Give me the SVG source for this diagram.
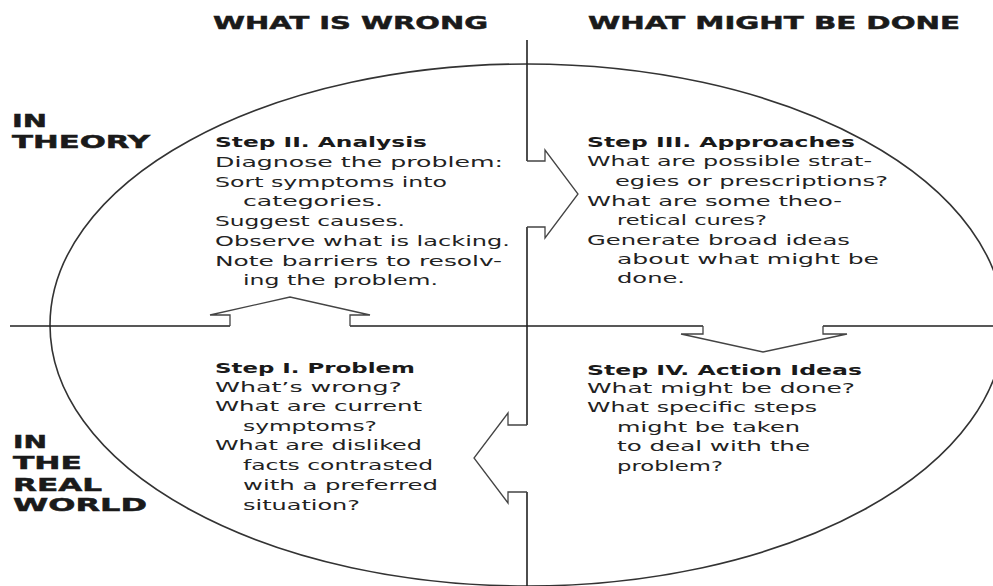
<svg xmlns="http://www.w3.org/2000/svg" width="993" height="586" viewBox="0 0 993 586">
<style>
.hdr{font-family:"DejaVu Sans","Liberation Sans",sans-serif;font-weight:bold;font-size:18.5px;fill:#1a1a1a;stroke:#1a1a1a;stroke-width:0.5}
.side{font-family:"DejaVu Sans","Liberation Sans",sans-serif;font-weight:bold;font-size:18.5px;fill:#1a1a1a;stroke:#1a1a1a;stroke-width:0.5}
.t{font-family:"DejaVu Sans","Liberation Sans",sans-serif;font-size:14px;fill:#222}
.b{font-family:"DejaVu Sans","Liberation Sans",sans-serif;font-size:14px;font-weight:bold;fill:#1a1a1a}
.axis{fill:none;stroke:#222;stroke-width:1.6}
.ring{fill:none;stroke:#333;stroke-width:1.6}
.arrow{fill:none;stroke:#444;stroke-width:1.3;stroke-linejoin:miter}
</style>
<rect width="993" height="586" fill="#fff"/>
<g id="frame">
<ellipse class="ring" cx="527" cy="325" rx="477" ry="261"/>
<path class="axis" d="M527,40 V161 M527,227 V425 M527,492 V586"/>
<path class="axis" d="M10,326 H230 M350,326 H703 M823,326 H993"/>
</g>
<g id="connectors">
<path id="arrow-I-II" class="arrow" d="M230,326 V315 H210 L290,297 L370,315 H350 V326"/>
<path id="arrow-II-III" class="arrow" d="M527,161 H545 V150 L578,194 L545,238 V227 H527"/>
<path id="arrow-III-IV" class="arrow" d="M703,326 V334 H681 L763,352 L847,334 H823 V326"/>
<path id="arrow-IV-I" class="arrow" d="M527,425 H508 V413 L474,458 L508,503 V492 H527"/>
</g>
<g id="col-wrong"><text class="hdr" x="213" y="29" textLength="275" lengthAdjust="spacingAndGlyphs">WHAT IS WRONG</text></g>
<g id="col-done"><text class="hdr" x="588" y="29" textLength="372" lengthAdjust="spacingAndGlyphs">WHAT MIGHT BE DONE</text></g>
<g id="row-theory">
<text class="side" x="12" y="127" textLength="35" lengthAdjust="spacingAndGlyphs">IN</text>
<text class="side" x="12" y="148" textLength="138" lengthAdjust="spacingAndGlyphs">THEORY</text>
</g>
<g id="row-real">
<text class="side" x="13" y="448" textLength="34" lengthAdjust="spacingAndGlyphs">IN</text>
<text class="side" x="13" y="469" textLength="69" lengthAdjust="spacingAndGlyphs">THE</text>
<text class="side" x="13" y="491" textLength="89" lengthAdjust="spacingAndGlyphs">REAL</text>
<text class="side" x="13" y="511" textLength="134" lengthAdjust="spacingAndGlyphs">WORLD</text>
</g>
<g id="step2">
<text class="b" x="215" y="147" textLength="212" lengthAdjust="spacingAndGlyphs">Step II. Analysis</text>
<text class="t" x="215" y="167" textLength="288" lengthAdjust="spacingAndGlyphs">Diagnose the problem:</text>
<text class="t" x="215" y="187" textLength="232" lengthAdjust="spacingAndGlyphs">Sort symptoms into</text>
<text class="t" x="243" y="206" textLength="140" lengthAdjust="spacingAndGlyphs">categories.</text>
<text class="t" x="215" y="226" textLength="190" lengthAdjust="spacingAndGlyphs">Suggest causes.</text>
<text class="t" x="215" y="246" textLength="295" lengthAdjust="spacingAndGlyphs">Observe what is lacking.</text>
<text class="t" x="215" y="266" textLength="287" lengthAdjust="spacingAndGlyphs">Note barriers to resolv-</text>
<text class="t" x="243" y="285" textLength="195" lengthAdjust="spacingAndGlyphs">ing the problem.</text>
</g>
<g id="step3">
<text class="b" x="587" y="147" textLength="268" lengthAdjust="spacingAndGlyphs">Step III. Approaches</text>
<text class="t" x="587" y="166" textLength="285" lengthAdjust="spacingAndGlyphs">What are possible strat-</text>
<text class="t" x="615" y="186" textLength="273" lengthAdjust="spacingAndGlyphs">egies or prescriptions?</text>
<text class="t" x="587" y="206" textLength="255" lengthAdjust="spacingAndGlyphs">What are some theo-</text>
<text class="t" x="617" y="225" textLength="150" lengthAdjust="spacingAndGlyphs">retical cures?</text>
<text class="t" x="587" y="245" textLength="263" lengthAdjust="spacingAndGlyphs">Generate broad ideas</text>
<text class="t" x="617" y="264" textLength="262" lengthAdjust="spacingAndGlyphs">about what might be</text>
<text class="t" x="617" y="283" textLength="68" lengthAdjust="spacingAndGlyphs">done.</text>
</g>
<g id="step1">
<text class="b" x="215" y="373" textLength="200" lengthAdjust="spacingAndGlyphs">Step I. Problem</text>
<text class="t" x="215" y="392" textLength="187" lengthAdjust="spacingAndGlyphs">What’s wrong?</text>
<text class="t" x="215" y="411" textLength="207" lengthAdjust="spacingAndGlyphs">What are current</text>
<text class="t" x="243" y="431" textLength="134" lengthAdjust="spacingAndGlyphs">symptoms?</text>
<text class="t" x="215" y="450" textLength="207" lengthAdjust="spacingAndGlyphs">What are disliked</text>
<text class="t" x="243" y="470" textLength="190" lengthAdjust="spacingAndGlyphs">facts contrasted</text>
<text class="t" x="243" y="490" textLength="195" lengthAdjust="spacingAndGlyphs">with a preferred</text>
<text class="t" x="243" y="510" textLength="117" lengthAdjust="spacingAndGlyphs">situation?</text>
</g>
<g id="step4">
<text class="b" x="587" y="375" textLength="275" lengthAdjust="spacingAndGlyphs">Step IV. Action Ideas</text>
<text class="t" x="587" y="393" textLength="268" lengthAdjust="spacingAndGlyphs">What might be done?</text>
<text class="t" x="587" y="412" textLength="230" lengthAdjust="spacingAndGlyphs">What specific steps</text>
<text class="t" x="617" y="432" textLength="183" lengthAdjust="spacingAndGlyphs">might be taken</text>
<text class="t" x="617" y="451" textLength="193" lengthAdjust="spacingAndGlyphs">to deal with the</text>
<text class="t" x="617" y="471" textLength="106" lengthAdjust="spacingAndGlyphs">problem?</text>
</g>
</svg>
